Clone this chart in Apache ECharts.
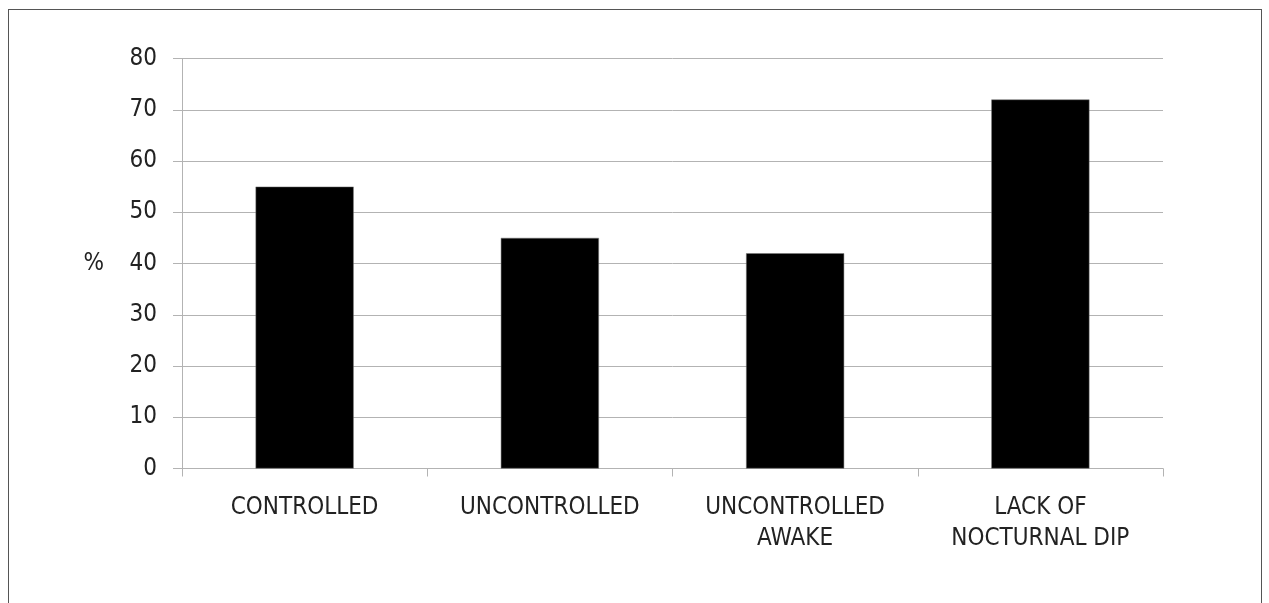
<!DOCTYPE html>
<html>
<head>
<meta charset="utf-8">
<script src="https://cdn.jsdelivr.net/npm/echarts@6/dist/echarts.min.js"></script>
<style>
  html, body { margin: 0; padding: 0; background: #fff; }
  #frame {
    position: absolute; left: 8px; top: 9px; width: 1254px; height: 700px;
    border: 1px solid #555; box-sizing: border-box;
  }
  #chart { position: absolute; left: 0; top: 0; width: 1269px; height: 603px; }
</style>
</head>
<body>
<div id="frame"></div>
<div id="chart"></div>
<script>
  const categories = ["CONTROLLED", "UNCONTROLLED", "UNCONTROLLED\nAWAKE", "LACK OF\nNOCTURNAL DIP"];
  const values = [55, 45, 42, 72];
  const yMin = 0, yMax = 80, yStep = 10;

  const font = '"DejaVu Sans Condensed", "Liberation Sans Narrow", "Arial Narrow", sans-serif';
  const gridGray = "#b3b3b3";

  const myChart = echarts.init(document.getElementById("chart"));
  const option = {
    backgroundColor: "rgba(0,0,0,0)",
    animation: false,
    grid: {
      left: 182,
      right: 106,
      top: 58.5,
      bottom: 134.5,
      containLabel: false
    },
    xAxis: {
      type: "category",
      data: categories,
      axisLine: { show: true, lineStyle: { color: gridGray, width: 1 } },
      axisTick: { show: true, length: 8, alignWithLabel: false, lineStyle: { color: gridGray } },
      axisLabel: {
        margin: 24,
        color: "#222",
        fontFamily: font,
        fontSize: 24,
        lineHeight: 31,
        interval: 0
      }
    },
    yAxis: {
      type: "value",
      min: yMin,
      max: yMax,
      interval: yStep,
      name: "%",
      nameLocation: "middle",
      nameRotate: 0,
      nameGap: 78,
      nameTextStyle: { color: "#222", fontFamily: font, fontSize: 24, align: "right", verticalAlign: "middle" },
      axisLine: { show: true, lineStyle: { color: gridGray, width: 1 } },
      axisTick: { show: true, length: 9, lineStyle: { color: gridGray } },
      splitLine: { show: true, lineStyle: { color: gridGray, width: 1 } },
      axisLabel: {
        margin: 25,
        color: "#222",
        fontFamily: font,
        fontSize: 24
      }
    },
    series: [
      {
        type: "bar",
        data: values,
        barWidth: "40%",
        itemStyle: { color: "#000", borderColor: "#777", borderWidth: 0.5 }
      }
    ]
  };
  myChart.setOption(option, true);
</script>
</body>
</html>
